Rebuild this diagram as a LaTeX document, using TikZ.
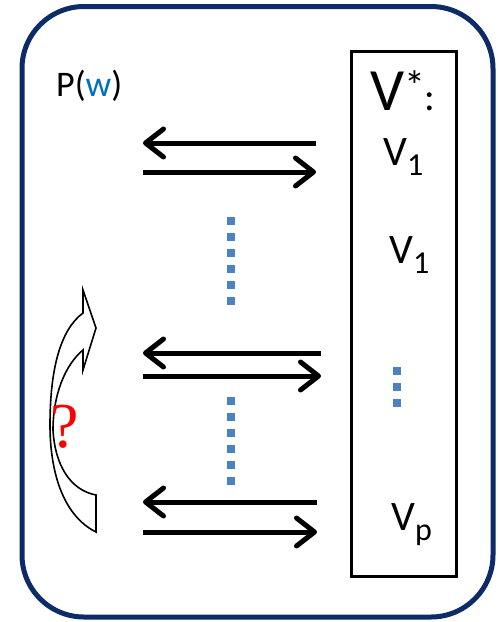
\documentclass[tikz,border=0pt]{standalone}
\usepackage{fontspec}
\setmainfont{Carlito}
\newfontfamily\qfont{Liberation Serif}
\usetikzlibrary{arrows.meta}
\definecolor{framenavy}{HTML}{0D2B66}
\definecolor{dotblue}{HTML}{4F81BD}
\definecolor{wblue}{HTML}{0070C0}
% V with a lowered index
\newcommand\vidx[1]{\fontsize{42}{42}\selectfont V\raisebox{-10pt}{\fontsize{32}{32}\selectfont #1}}

\begin{document}
\begin{tikzpicture}[x=1pt, y=-1pt,
    flow/.style={line width=5pt, -{Straight Barb[length=18pt,width=28pt,round]}},
    dots/.style={dotblue, line width=8pt, dash pattern=on 8pt off 8pt},
    lbl/.style={anchor=base west, inner sep=0pt}]
  \useasboundingbox (0,0) rectangle (498,622);

  % outer frame and the V* column
  \draw[framenavy, line width=5pt, rounded corners=62pt] (22,6.5) rectangle (493,617);
  \draw[line width=3pt] (351,51) rectangle (456,576);

  % labels
  \node[lbl, font=\fontsize{36}{36}\selectfont] (pw) at (56,96) {P(\textcolor{wblue}{w})};
  \node[lbl] (vstar) at (370,110) {\fontsize{60}{60}\selectfont V\raisebox{10pt}{\fontsize{42}{42}\selectfont *}\hspace{-1pt}\fontsize{40}{40}\selectfont:};
  \node[lbl] (va) at (383,165) {\vidx{1}};
  \node[lbl] (vb) at (389,263) {\vidx{1}};
  \node[lbl] (vp) at (391,530) {\vidx{p}};

  % vertical dots
  \draw[dots] (231,217) -- (231,305);
  \draw[dots] (231,397) -- (231,485);
  \draw[dots] (397,367) -- (397,407);

  % arrow pairs
  \foreach \i/\ya/\yb/\xe in {1/143/172/316, 2/353/376/321, 3/502/532/317}{
    \coordinate (pl\i) at (143,\ya);
    \coordinate (vl\i) at (\xe,\ya);
    \coordinate (pr\i) at (143,\yb);
    \coordinate (vr\i) at (\xe,\yb);
    \draw[flow] (vl\i) -- (pl\i);
    \draw[flow] (pr\i) -- (vr\i);
  }

  % curved hollow arrow
  \draw[line width=1.6pt, line join=miter]
    (96,532) .. controls (62,515) and (50,470) .. (50,425)
    .. controls (50,370) and (60,330) .. (83,313)
    -- (83,290) -- (96,328) -- (83,370) -- (83,350)
    .. controls (65,365) and (53,395) .. (53,430)
    .. controls (55,465) and (70,490) .. (96,495) -- cycle;
  \node[anchor=base, inner sep=0pt, text=red, font=\qfont\fontsize{64}{64}\selectfont] (ask) at (65,447) {?};
\end{tikzpicture}
\end{document}
